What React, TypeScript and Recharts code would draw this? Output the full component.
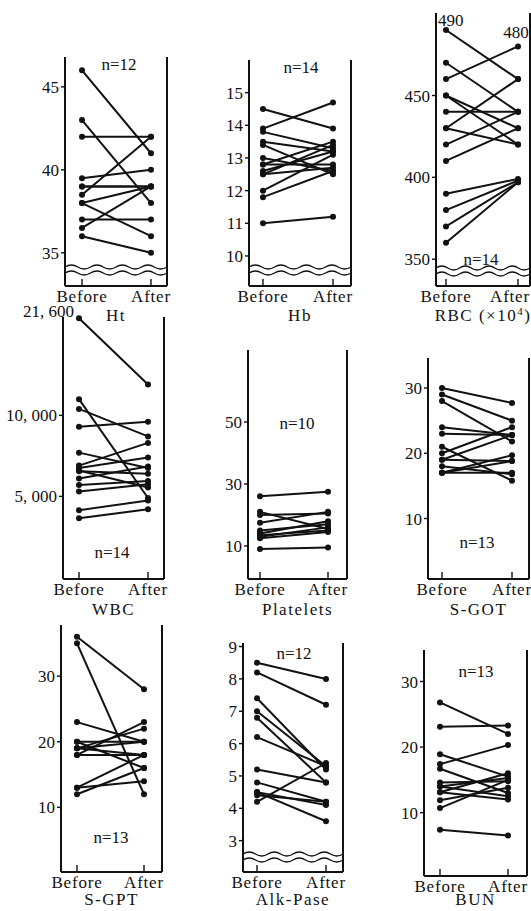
import { LineChart, Line, XAxis, YAxis } from 'recharts'

const INK = '#111'
const FONT = '"Liberation Serif", "DejaVu Serif", serif'

const phases = ['Before', 'After']

// Ht (%)
const htBefore = [46, 43, 42, 39.5, 39, 38.5, 38, 38, 37, 36.5, 36, 39]
const htAfter = [41, 38, 42, 40, 39, 42, 39, 36, 37, 39, 35, 39]
// Hb (g/dl)
const hbBefore = [14.5, 13.9, 13.8, 13.5, 13.4, 13.0, 12.8, 12.8, 12.6, 12.5, 12.5, 12.0, 11.8, 11.0]
const hbAfter = [13.9, 14.7, 13.3, 13.2, 12.5, 12.6, 12.8, 13.5, 13.2, 12.7, 13.4, 13.1, 12.6, 11.2]
// RBC (x10^4)
const rbcBefore = [490, 470, 460, 450, 450, 440, 430, 430, 420, 410, 390, 380, 370, 360]
const rbcAfter = [460, 440, 480, 430, 420, 440, 460, 420, 440, 430, 399, 398, 397, 397]
// WBC
const wbcBefore = [21600, 11000, 10400, 9300, 7700, 6900, 6750, 6600, 6550, 6100, 5700, 5300, 4150, 3650]
const wbcAfter = [11900, 4900, 8700, 9600, 6750, 8300, 7400, 5550, 6400, 6850, 5950, 5750, 4750, 4200]
// Platelets
const pltBefore = [26, 21, 20, 17.5, 15, 14, 13.5, 13, 12.5, 9]
const pltAfter = [27.5, 15.5, 20.5, 21, 17, 18, 15, 16, 14.5, 9.5]
// S-GOT
const gotBefore = [30, 29, 28, 24, 23, 21, 20, 19, 19, 18, 17, 17, 17]
const gotAfter = [27.7, 25, 21.8, 22.8, 22.8, 15.8, 24, 18.8, 22.8, 16.8, 19.7, 18.8, 17]
// S-GPT
const gptBefore = [36, 35, 23, 20, 20, 19, 19, 19, 18, 18, 13, 13, 12]
const gptAfter = [28, 12, 20, 20, 16, 22, 18, 20, 23, 18, 18, 14, 16]
// Alk-Pase
const alpBefore = [8.5, 8.2, 7.4, 7.0, 6.8, 6.2, 5.2, 4.8, 4.5, 4.5, 4.4, 4.2]
const alpAfter = [8.0, 7.2, 5.2, 5.3, 4.8, 5.3, 4.8, 4.2, 4.1, 3.6, 4.2, 5.4]
// BUN
const bunBefore = [26.8, 23.1, 18.9, 17.4, 16.7, 14.6, 14, 14, 13.1, 13.1, 11.9, 10.7, 7.4]
const bunAfter = [22, 23.3, 15.5, 20.3, 13, 14.8, 12.5, 15.3, 16, 12, 13.8, 15, 6.5]

const htTicks = [35, 40, 45]
const hbTicks = [10, 11, 12, 13, 14, 15]
const rbcTicks = [350, 400, 450]
const wbcTicks = [5000, 10000]
const pltTicks = [10, 30, 50]
const tenTicks = [10, 20, 30]
const alpTicks = [3, 4, 5, 6, 7, 8, 9]

const spaced = (v: number) => v.toLocaleString('en-US').replace(/,/g, ', ')

type Note = { series: number; point: number; dx: number; dy: number; anchor: 'start' | 'middle' | 'end' }

type Spec = {
  title: string
  before: number[]
  after: number[]
  ticks: number[]
  domain: [number, number]
  cap?: number
  fmt?: (v: number) => string
  left: number
  right: number
  top: number
  bottom: number
  padL: number
  padR: number
  afterShift?: number
  waves?: [number, number]
  nAt: [number, number]
  titleY: number
  notes?: Note[]
}

const panels: Spec[] = [
  { title: 'Ht', before: htBefore, after: htAfter, ticks: htTicks, domain: [33.0, 46.8],
    left: 65, right: 167, top: 57, bottom: 286, padL: 17, padR: 16, waves: [267, 273], nAt: [119, 70], titleY: 321 },
  { title: 'Hb', before: hbBefore, after: hbAfter, ticks: hbTicks, domain: [9.08, 16.0],
    left: 249, right: 351, top: 60, bottom: 286, padL: 14, padR: 18, waves: [267, 273], nAt: [301, 73], titleY: 321 },
  { title: 'RBC', before: rbcBefore, after: rbcAfter, ticks: rbcTicks, domain: [333.6, 500.4],
    left: 436, right: 530, top: 13, bottom: 286, padL: 10, padR: 12, afterShift: -8, waves: [268, 274], nAt: [481, 265], titleY: 321,
    notes: [{ series: 0, point: 0, dx: -8, dy: -4, anchor: 'start' }, { series: 2, point: 1, dx: -2, dy: -8, anchor: 'middle' }] },
  { title: 'WBC', before: wbcBefore, after: wbcAfter, ticks: wbcTicks, domain: [-99, 16072], cap: 16000, fmt: spaced,
    left: 63, right: 164, top: 317, bottom: 579, padL: 16, padR: 16, nAt: [112, 558], titleY: 615,
    notes: [{ series: 0, point: 0, dx: -5, dy: -1, anchor: 'end' }] },
  { title: 'Platelets', before: pltBefore, after: pltAfter, ticks: pltTicks, domain: [-0.65, 73.2],
    left: 248, right: 347, top: 350, bottom: 579, padL: 12, padR: 19, nAt: [297, 429], titleY: 615 },
  { title: 'S-GOT', before: gotBefore, after: gotAfter, ticks: tenTicks, domain: [0.73, 34.6],
    left: 428, right: 529, top: 358, bottom: 579, padL: 14, padR: 17, nAt: [477, 548], titleY: 615 },
  { title: 'S-GPT', before: gptBefore, after: gptAfter, ticks: tenTicks, domain: [0.15, 37.8],
    left: 61, right: 162, top: 625, bottom: 872, padL: 16, padR: 18, nAt: [111, 843], titleY: 905 },
  { title: 'Alk-Pase', before: alpBefore, after: alpAfter, ticks: alpTicks, domain: [2.03, 9.11],
    left: 243, right: 343, top: 643, bottom: 872, padL: 14, padR: 17, waves: [854, 860], nAt: [294, 659], titleY: 905 },
  { title: 'BUN', before: bunBefore, after: bunAfter, ticks: tenTicks, domain: [0.34, 34.8],
    left: 424, right: 527, top: 650, bottom: 876, padL: 16, padR: 19, nAt: [476, 677], titleY: 905 },
]

const YW = 60
const MT = 24
const MB = 40

function makePhaseTick(afterShift: number) {
  return function PhaseTick(props: any) {
    const { x, y, payload } = props
    const tx = payload.value === 'After' ? x + afterShift : x
    return (
      <g>
        <line x1={x} y1={y} x2={x} y2={y - 7} stroke={INK} strokeWidth={1.4} />
        <text x={tx} y={y + 16} textAnchor="middle" fontSize={17} fill={INK} letterSpacing={0.8}>
          {payload.value}
        </text>
      </g>
    )
  }
}

function wavePath(x0: number, x1: number, y: number) {
  const halves = 8
  const w = (x1 - x0) / halves
  let d = `M${x0},${y}`
  for (let i = 0; i < halves; i++) {
    const xs = x0 + i * w
    d += ` Q${xs + w / 2},${y + (i % 2 === 0 ? -4 : 4)} ${xs + w},${y}`
  }
  return d
}

function Panel({ p }: { p: Spec }) {
  const rows = phases.map((phase, i) => {
    const row: Record<string, string | number> = { phase }
    p.before.forEach((b, k) => {
      const v = i === 0 ? b : p.after[k]
      row['s' + k] = p.cap ? Math.min(v, p.cap) : v
    })
    return row
  })
  const plotW = p.right - p.left
  const plotH = p.bottom - p.top
  const fmt = p.fmt ?? ((v: number) => String(v))

  const dotFor = (k: number) => {
    const notes = (p.notes ?? []).filter((n) => n.series === k)
    if (!notes.length) return { r: 3, fill: INK, stroke: INK, strokeWidth: 0 }
    return (dp: any) => {
      const note = notes.find((n) => n.point === dp.index)
      const raw = dp.index === 0 ? p.before[k] : p.after[k]
      return (
        <g key={`d-${k}-${dp.index}`}>
          <circle cx={dp.cx} cy={dp.cy} r={3} fill={INK} />
          {note && (
            <text x={dp.cx + note.dx} y={dp.cy + note.dy} textAnchor={note.anchor} fontSize={17} fill={INK}>
              {fmt(raw)}
            </text>
          )}
        </g>
      )
    }
  }

  return (
    <div style={{ position: 'absolute', left: p.left - YW, top: p.top - MT }}>
      <LineChart width={YW + plotW + 4} height={MT + plotH + MB} data={rows} margin={{ top: MT, right: 3, bottom: 0, left: 0 }}>
        <XAxis
          dataKey="phase"
          scale="point"
          padding={{ left: p.padL, right: p.padR }}
          height={MB}
          interval={0}
          tickLine={false}
          tickSize={0}
          tickMargin={0}
          axisLine={{ stroke: INK, strokeWidth: 1.8 }}
          tick={makePhaseTick(p.afterShift ?? 0)}
        />
        <YAxis
          width={YW}
          domain={p.domain}
          ticks={p.ticks}
          interval={0}
          tickFormatter={fmt}
          tickSize={4}
          tickMargin={2}
          tick={{ fontSize: 17, fill: INK }}
          tickLine={{ stroke: INK, strokeWidth: 1.4 }}
          axisLine={{ stroke: INK, strokeWidth: 2 }}
        />
        <YAxis yAxisId="r" orientation="right" width={1} domain={[0, 1]} tick={false} tickLine={false} axisLine={{ stroke: INK, strokeWidth: 2 }} />
        {p.before.map((_, k) => (
          <Line
            key={k}
            dataKey={'s' + k}
            stroke={INK}
            strokeWidth={2}
            dot={dotFor(k)}
            activeDot={false}
            isAnimationActive={false}
          />
        ))}
      </LineChart>
    </div>
  )
}

export default function App() {
  return (
    <div style={{ position: 'absolute', left: 0, top: 0, width: 531, height: 911, background: '#fff', fontFamily: FONT, overflow: 'hidden' }}>
      {panels.map((p) => (
        <Panel key={p.title} p={p} />
      ))}
      <svg width={531} height={911} style={{ position: 'absolute', left: 0, top: 0, pointerEvents: 'none' }}>
        {panels.map((p) => {
          const cx = (p.left + p.right) / 2
          return (
            <g key={p.title} fill={INK}>
              {p.waves &&
                p.waves.map((wy) => (
                  <path key={wy} d={wavePath(p.left, p.right, wy)} fill="none" stroke={INK} strokeWidth={1.4} />
                ))}
              <text x={p.nAt[0]} y={p.nAt[1]} textAnchor="middle" fontSize={17}>
                n={p.before.length}
              </text>
              <text x={cx} y={p.titleY} textAnchor="middle" fontSize={17} letterSpacing={1.5}>
                {p.title === 'RBC' ? (
                  <>
                    RBC (×10<tspan dy={-6} fontSize={11}>4</tspan>
                    <tspan dy={6}>)</tspan>
                  </>
                ) : (
                  p.title
                )}
              </text>
            </g>
          )
        })}
      </svg>
    </div>
  )
}
